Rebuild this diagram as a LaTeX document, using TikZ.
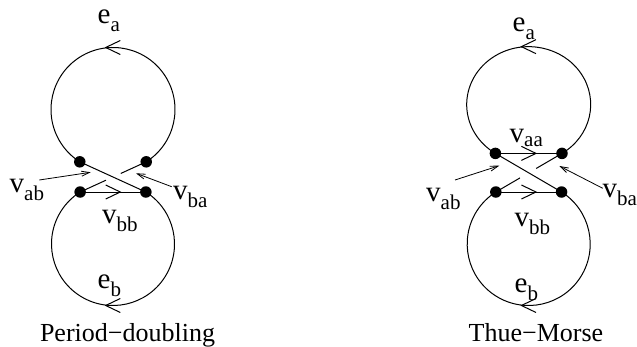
\documentclass[tikz,border=0pt]{standalone}
\usepackage{fontspec}
\setmainfont{Liberation Serif}
\usetikzlibrary{calc,decorations.markings,arrows.meta}
\newcommand\sublab[2]{#1\raisebox{-8pt}{\fontsize{21}{21}\selectfont #2}}
\newcommand\sublabhi[2]{#1\raisebox{-4pt}{\fontsize{21}{21}\selectfont #2}}
\begin{document}
\begin{tikzpicture}[x=1pt,y=1pt,
  dot/.style={circle,fill,inner sep=0pt,minimum size=11.5pt},
  curve/.style={line width=1pt},
  midchev/.style={postaction={decorate},decoration={markings,mark=at position 0.5 with {\draw[line width=1pt] (-7.3pt,7pt) -- (7.3pt,0pt) -- (-7.3pt,-7pt);}}},
  lbl/.style={inner sep=0pt,anchor=base west,font=\fontsize{29}{29}\selectfont},
  ptr/.style={line width=0.8pt,-{Straight Barb[length=8pt,width=5pt]}},
  title/.style={inner sep=0pt,anchor=base,font=\fontsize{26}{26}\selectfont}]
\useasboundingbox (0,0) rectangle (637,347);
% ---------- left: period-doubling ----------
\coordinate (ca1) at (113,237.5);
\coordinate (cb1) at (113,103);
\node[dot] (tl1) at ($(ca1)+(-122.4:62)$) {};
\node[dot] (tr1) at ($(ca1)+(-57.6:62)$) {};
\node[dot] (bl1) at ($(cb1)+(122.3:61.5)$) {};
\node[dot] (br1) at ($(cb1)+(57.7:61.5)$) {};
\draw[curve,midchev] (tr1.center) arc[start angle=-57.6,end angle=237.6,radius=62pt];
\draw[curve,midchev] (br1.center) arc[start angle=57.7,end angle=-237.7,radius=61.5pt];
\draw[curve,midchev] (bl1.center) -- (br1.center);
\draw[curve] (tl1.center) -- (br1.center);
\draw[curve] (bl1.center) -- ($(bl1)!0.39!(tr1)$);
\draw[curve] ($(bl1)!0.615!(tr1)$) -- (tr1.center);
\node[lbl] (ea1) at (97.5,323.5) {\sublab{e}{a}};
\node[lbl] (eb1) at (97.5,58.5) {\sublab{e}{b}};
\node[lbl] (vbb1) at (102,123) {\sublab{v}{bb}};
\node[lbl] (vab1) at (9.5,154) {\sublab{v}{ab}};
\node[lbl] (vba1) at (173,147) {\sublab{v}{ba}};
\coordinate (pab1s) at (39.3,167);
\coordinate (pab1e) at (90.7,174.7);
\coordinate (pba1s) at (171.7,160.3);
\coordinate (pba1e) at (136,173.7);
\draw[ptr] (pab1s) -- (pab1e);
\draw[ptr] (pba1s) -- (pba1e);
\node[title] (t1) at (127.5,5.3) {Period−doubling};
% ---------- right: Thue-Morse ----------
\coordinate (ca2) at (528.7,242.4);
\coordinate (cb2) at (528.7,103);
\node[dot] (tl2) at (495.4,193.6) {};
\node[dot] (tr2) at (562,193.6) {};
\node[dot] (bl2) at ($(cb2)+(122.3:61.5)$) {};
\node[dot] (br2) at ($(cb2)+(57.7:61.5)$) {};
\draw[curve,midchev] (tr2.center) arc[start angle=-57.5,end angle=237.5,x radius=62pt,y radius=57.9pt];
\draw[curve,midchev] (br2.center) arc[start angle=57.7,end angle=-237.7,radius=61.5pt];
\draw[curve,midchev] (tl2.center) -- (tr2.center);
\draw[curve,midchev] (bl2.center) -- (br2.center);
\draw[curve] (tl2.center) -- (br2.center);
\draw[curve] (bl2.center) -- ($(bl2)!0.365!(tr2)$);
\draw[curve] ($(bl2)!0.61!(tr2)$) -- (tr2.center);
\node[lbl] (ea2) at (512.5,315.3) {\sublab{e}{a}};
\node[lbl] (vaa2) at (509.5,204) {\sublabhi{v}{aa}};
\node[lbl] (eb2) at (514.5,54) {\sublab{e}{b}};
\node[lbl] (vbb2) at (514.5,120.5) {\sublab{v}{bb}};
\node[lbl] (vab2) at (426,145.3) {\sublab{v}{ab}};
\node[lbl] (vba2) at (602.5,149.3) {\sublab{v}{ba}};
\coordinate (pab2s) at (455,167);
\coordinate (pab2e) at (499.3,181.3);
\coordinate (pba2s) at (602.7,158.7);
\coordinate (pba2e) at (559.3,181);
\draw[ptr] (pab2s) -- (pab2e);
\draw[ptr] (pba2s) -- (pba2e);
\node[title] (t2) at (536,5.3) {Thue−Morse};
\end{tikzpicture}
\end{document}
